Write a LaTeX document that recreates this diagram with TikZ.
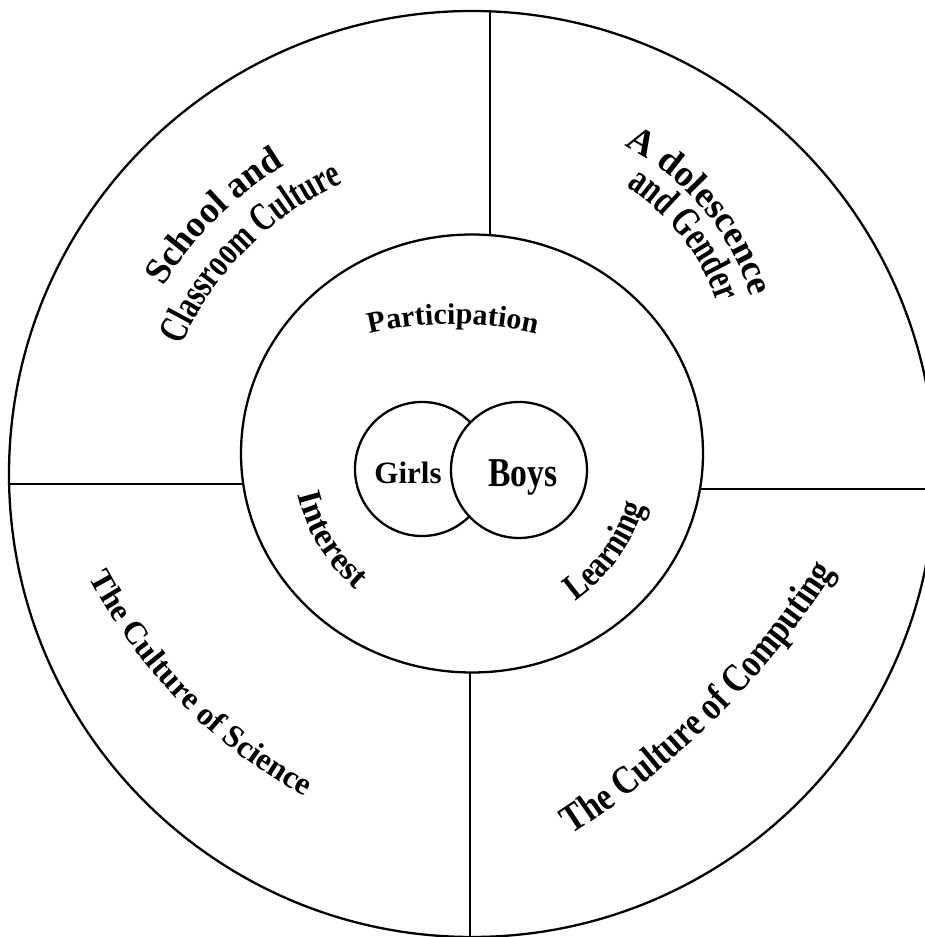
\documentclass[tikz,border=0pt]{standalone}
\usepackage{fontspec}
\usetikzlibrary{decorations.text}
\newfontfamily\fN{Liberation Serif}
\newfontfamily\fC[FakeStretch=0.82]{Liberation Serif}
\newfontfamily\fX[FakeStretch=0.72]{Liberation Serif}
\newcommand\arcText[6]{\path[decorate,decoration={text along path,text align=center,text={#6}}] ([shift={(#1,#2)}]#4:#3) arc[start angle=#4,end angle=#5,radius=#3];}
\tikzset{
  ring/.style={draw=black,line width=2.3pt},
  divider/.style={draw=black,line width=2.3pt},
  small/.style={draw=black,line width=2.3pt,circle,inner sep=0pt},
}
\begin{document}
\begin{tikzpicture}[x=1pt,y=1pt]
\useasboundingbox (0,0) rectangle (925,937);
\clip (0,0) rectangle (925,937);
\fill[white] (0,0) rectangle (925,937);
% rings
\draw[ring] (472,463) circle[radius=463];
\draw[ring] (472,483.5) ellipse[x radius=231,y radius=219];
% dividers
\coordinate (topA) at (490,925.6);
\coordinate (topB) at (490,701.8);
\coordinate (leftA) at (9.1,453);
\coordinate (leftB) at (243.3,453);
\coordinate (rightA) at (699.9,448);
\coordinate (rightB) at (940,448);
\coordinate (botA) at (470,264.5);
\coordinate (botB) at (470,-5);
\draw[divider] (topA) -- (topB);
\draw[divider] (leftA) -- (leftB);
\draw[divider] (rightA) -- (rightB);
\draw[divider] (botA) -- (botB);
% venn
\node[small,minimum size=134pt] (girlsC) at (422,468) {};
\node[small,fill=white,minimum size=136pt] (boysC) at (519,467) {};
\node (girls) at (408,464) {\fN\bfseries\fontsize{31}{31}\selectfont Girls};
\node (boys) at (523,459) {\fC\bfseries\fontsize{41}{41}\selectfont Boys};
% curved labels
\arcText{472}{463}{361}{160}{110}{|\fN\bfseries\fontsize{37}{37}\selectfont|School and}
\arcText{472}{463}{318}{170}{100}{|\fX\bfseries\fontsize{40}{40}\selectfont|Classroom Culture}
\arcText{505}{562}{258}{80}{0}{|\fN\bfseries\fontsize{37}{37}\selectfont|A dolescence}
\arcText{505}{562}{224}{78}{-2}{|\fX\bfseries\fontsize{41}{41}\selectfont|and Gender}
\arcText{453}{253}{360}{120}{60}{|\fN\bfseries\fontsize{30}{30}\selectfont|Participation}
\arcText{472}{483.5}{179}{180}{243}{|\fN\bfseries\fontsize{34}{34}\selectfont|Interest}
\arcText{472}{483.5}{180}{290}{358}{|\fC\bfseries\fontsize{37}{37}\selectfont|Learning}
\arcText{560}{607}{532}{200}{249}{|\fN\bfseries\fontsize{32}{32}\selectfont|The Culture of Science}
\arcText{100}{837}{873}{300}{330}{|\fC\bfseries\fontsize{40}{40}\selectfont|The Culture of Computing}
\end{tikzpicture}
\end{document}
